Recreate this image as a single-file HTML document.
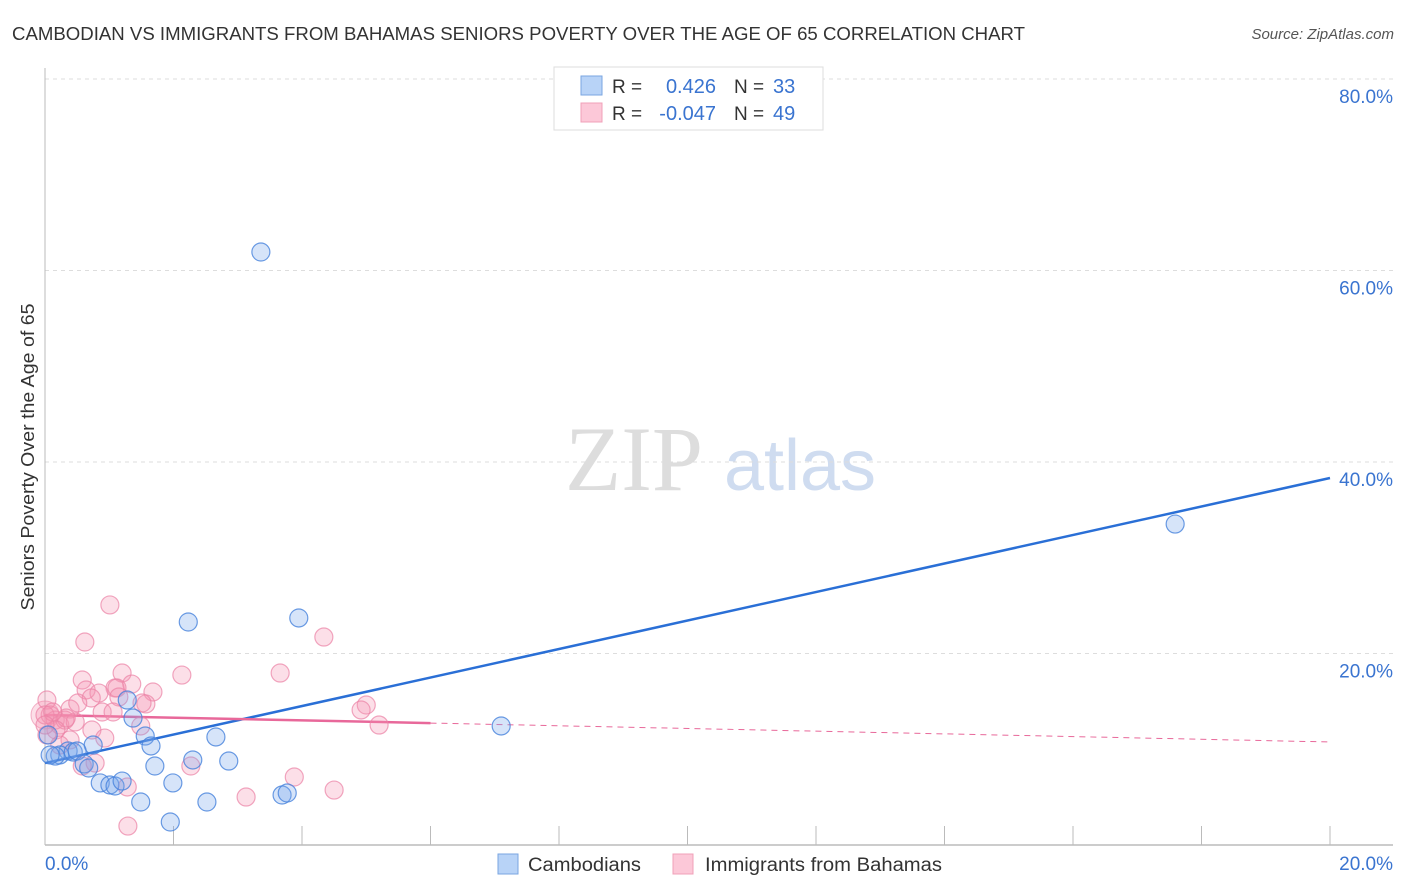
<!DOCTYPE html>
<html><head><meta charset="utf-8"><style>
body{margin:0;background:#fff;font-family:"Liberation Sans",sans-serif;}
svg{display:block}
</style></head><body>
<svg id="chart" width="1406" height="892" xmlns="http://www.w3.org/2000/svg">
<text x="12" y="40" font-size="18" fill="#333" textLength="1013" lengthAdjust="spacingAndGlyphs">CAMBODIAN VS IMMIGRANTS FROM BAHAMAS SENIORS POVERTY OVER THE AGE OF 65 CORRELATION CHART</text>
<text x="1394" y="39" font-size="15" fill="#555" font-style="italic" text-anchor="end">Source: ZipAtlas.com</text>
<text x="34" y="457" font-size="18" fill="#333" text-anchor="middle" textLength="307" lengthAdjust="spacingAndGlyphs" transform="rotate(-90 34 457)">Seniors Poverty Over the Age of 65</text>
<g>
<text x="634" y="490" font-size="92" fill="#ddd" font-family="Liberation Serif,serif" text-anchor="middle">ZIP</text>
<text x="800" y="490" font-size="72" fill="#cfdcf0" text-anchor="middle">atlas</text>
</g>
<g id="grid"></g>
<g id="axes"></g>
<g id="lines"></g>
<g id="points"></g>
<g>
<rect x="554" y="67" width="269" height="63" fill="#fff" stroke="#ddd"/>
<rect x="581" y="76" width="21" height="19" fill="#b8d3f7" stroke="#7aa6e0"/>
<rect x="581" y="103" width="21" height="19" fill="#fcc8d8" stroke="#f0a0b8"/>
<text x="612" y="93" font-size="19" fill="#333">R =</text>
<text x="716" y="93" font-size="20" fill="#3a74d0" text-anchor="end">0.426</text>
<text x="734" y="93" font-size="19" fill="#333">N =</text>
<text x="773" y="93" font-size="20" fill="#3a74d0">33</text>
<text x="612" y="120" font-size="19" fill="#333">R =</text>
<text x="716" y="120" font-size="20" fill="#3a74d0" text-anchor="end">-0.047</text>
<text x="734" y="120" font-size="19" fill="#333">N =</text>
<text x="773" y="120" font-size="20" fill="#3a74d0">49</text>
</g>
<g>
<rect x="498" y="854" width="20" height="20" fill="#b8d3f7" stroke="#7aa6e0"/>
<text x="528" y="871" font-size="19" fill="#333" textLength="113" lengthAdjust="spacingAndGlyphs">Cambodians</text>
<rect x="673" y="854" width="20" height="20" fill="#fcc8d8" stroke="#f0a0b8"/>
<text x="705" y="871" font-size="19" fill="#333" textLength="237" lengthAdjust="spacingAndGlyphs">Immigrants from Bahamas</text>
</g>
</svg>
<script>
const yTicks=[20,40,60,80];
const xTickLabels=["0.0%","20.0%"];
const blueX=[3.36,17.59,3.95,2.23,7.10,1.28,1.37,1.56,1.65,2.66,0.75,0.36,0.23,0.44,0.16,0.50,0.61,0.68,1.71,2.30,2.86,0.86,1.01,1.09,1.20,1.99,1.49,2.52,3.69,3.77,1.95,0.05,0.08];
const blueY=[61.93,33.52,23.71,23.29,12.43,15.14,13.26,11.38,10.34,11.28,10.44,9.82,9.40,9.71,9.29,9.82,8.46,8.04,8.25,8.88,8.77,6.48,6.27,6.16,6.68,6.48,4.49,4.49,5.22,5.43,2.40,11.49,9.40];
const pinkX=[1.01,0.62,4.34,0.58,2.13,3.66,1.20,0.64,1.35,1.09,1.12,0.84,0.72,1.68,0.39,0.51,0.89,1.15,1.57,1.51,5.00,4.92,5.20,0.03,0.08,0.16,0.23,0.31,0.47,0.33,0.17,0.73,0.93,1.49,1.06,0.39,0.78,0.58,2.27,3.88,1.28,3.13,4.50,1.29,0,0.12,0.03,0.23,0];
const pinkY=[25.07,21.20,21.72,17.23,17.75,17.96,17.96,16.19,16.81,16.40,16.40,15.87,15.35,15.98,14.20,14.83,13.89,15.46,14.73,14.83,14.62,14.10,12.53,15.14,13.58,13.05,12.53,13.05,12.85,13.26,12.01,12.01,11.17,12.43,13.89,10.97,8.56,8.25,8.25,7.10,6.06,5.01,5.74,1.98,13.58,13.89,11.49,10.44,12.53];
const blueTrend=[8.56,38.33];
const pinkTrend=[13.58,10.76];
const pinkSolidEnd=6;

const X0=45,X1=1330,Y0=845,YPER=9.575;
const sx=v=>X0+v*(X1-X0)/20;
const sy=v=>Y0-v*YPER;
const NS="http://www.w3.org/2000/svg";
function mk(tag,attrs,parent){const e=document.createElementNS(NS,tag);for(const k in attrs)e.setAttribute(k,attrs[k]);parent.appendChild(e);return e;}
const grid=document.getElementById('grid'),axes=document.getElementById('axes'),lines=document.getElementById('lines'),pts=document.getElementById('points');
yTicks.forEach(t=>{
  const l=mk('line',{x1:45,x2:1393,y1:sy(t),y2:sy(t),stroke:'#ddd','stroke-dasharray':'4,4'},grid);
  
  
  const tx=mk('text',{x:1393,y:sy(t)+24,'font-size':19,fill:'#3a74d0','text-anchor':'end'},grid);
  tx.textContent=t.toFixed(1)+'%';
  
  
});
const ya=mk('line',{x1:45,x2:45,y1:68,y2:845,stroke:'#bbb'},axes);


const xa=mk('line',{x1:45,x2:1393,y1:845,y2:845,stroke:'#bbb','stroke-width':1.5},axes);


for(let i=1;i<=10;i++){
  const tk=mk('line',{x1:sx(i*2),x2:sx(i*2),y1:826,y2:845,stroke:'#bbb'},axes);
  
  
}
[[0,'start',45],[20,'end',1393]].forEach((a,i)=>{
  const t=mk('text',{x:a[2],y:870,'font-size':19,fill:'#3a74d0','text-anchor':a[1]},axes);
  t.textContent=xTickLabels[i];
  
  
});
const big=mk('circle',{cx:sx(0),cy:sy(13.58),r:14,fill:'rgba(245,150,180,0.3)',stroke:'rgba(235,130,165,0.6)'},pts);


function drawPts(xs,ys,fill,stroke,name){
  xs.forEach((x,i)=>{
    const c=mk('circle',{cx:sx(x),cy:sy(ys[i]),r:9,fill:fill,stroke:stroke,'stroke-width':1.2},pts);
    
    
  });
}
drawPts(pinkX,pinkY,'rgba(245,150,180,0.3)','rgba(235,130,165,0.7)','bahamas-point');
drawPts(blueX,blueY,'rgba(120,165,235,0.3)','rgba(70,130,220,0.8)','cambodian-point');
const py=x=>pinkTrend[0]+(pinkTrend[1]-pinkTrend[0])*x/20;
const bl=mk('line',{x1:sx(0),y1:sy(blueTrend[0]),x2:sx(20),y2:sy(blueTrend[1]),stroke:'#2a6fd6','stroke-width':2.5},lines);


const pl=mk('line',{x1:sx(0),y1:sy(py(0)),x2:sx(pinkSolidEnd),y2:sy(py(pinkSolidEnd)),stroke:'#e8689a','stroke-width':2.5},lines);


const pd=mk('line',{x1:sx(pinkSolidEnd),y1:sy(py(pinkSolidEnd)),x2:sx(20),y2:sy(py(20)),stroke:'#e8689a','stroke-width':1,'stroke-dasharray':'6,5'},lines);


</script>
</body></html>
